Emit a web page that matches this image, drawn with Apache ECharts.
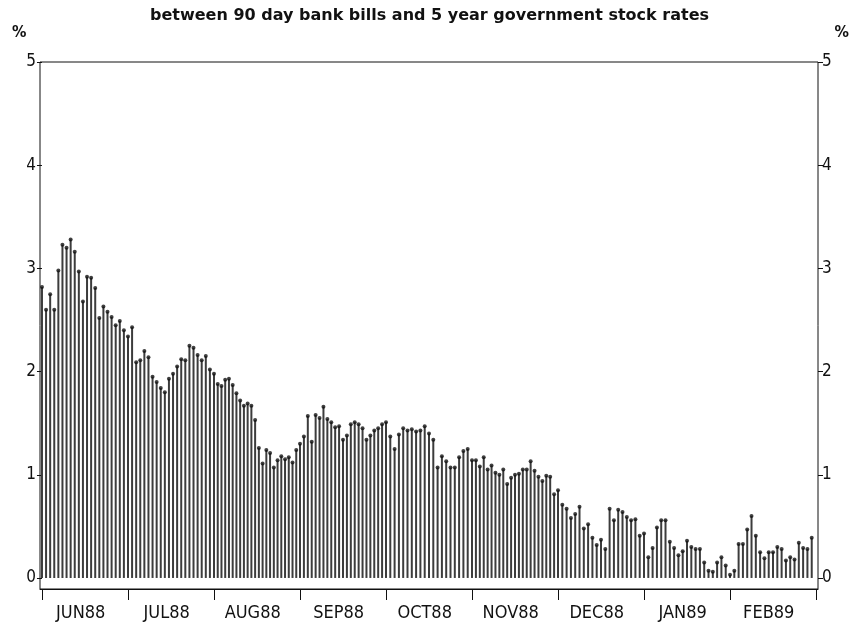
<!DOCTYPE html>
<html>
<head>
<meta charset="utf-8">
<script src="https://cdn.jsdelivr.net/npm/echarts@6/dist/echarts.min.js"></script>
<style>
  html, body { margin: 0; padding: 0; background: #fff; }
  #chart { width: 859px; height: 628px; }
</style>
</head>
<body>
<div id="chart"></div>
<script>
// Daily spread (percentage points) between 90 day bank bills and 5 year government stock,
// one array per month; each month gets the same width on the time scale.
const monthNames = ['JUN88', 'JUL88', 'AUG88', 'SEP88', 'OCT88', 'NOV88', 'DEC88', 'JAN89', 'FEB89'];
const spreadJun88 = [2.82, 2.60, 2.75, 2.60, 2.98, 3.23, 3.20, 3.28, 3.16, 2.97, 2.68, 2.92, 2.91, 2.81, 2.52, 2.63, 2.58, 2.53, 2.45, 2.49, 2.40];
const spreadJul88 = [2.34, 2.43, 2.09, 2.11, 2.20, 2.14, 1.95, 1.90, 1.84, 1.80, 1.93, 1.98, 2.05, 2.12, 2.11, 2.25, 2.23, 2.16, 2.11, 2.15, 2.02];
const spreadAug88 = [1.98, 1.88, 1.86, 1.92, 1.93, 1.87, 1.79, 1.72, 1.67, 1.69, 1.67, 1.53, 1.26, 1.11, 1.24, 1.21, 1.07, 1.14, 1.18, 1.15, 1.17, 1.12, 1.24];
const spreadSep88 = [1.30, 1.37, 1.57, 1.32, 1.58, 1.55, 1.66, 1.54, 1.51, 1.46, 1.47, 1.34, 1.38, 1.49, 1.51, 1.49, 1.45, 1.34, 1.38, 1.43, 1.45, 1.49];
const spreadOct88 = [1.51, 1.37, 1.25, 1.39, 1.45, 1.43, 1.44, 1.42, 1.43, 1.47, 1.40, 1.34, 1.07, 1.18, 1.13, 1.07, 1.07, 1.17, 1.23, 1.25];
const spreadNov88 = [1.14, 1.14, 1.08, 1.17, 1.05, 1.09, 1.02, 1.00, 1.05, 0.91, 0.97, 1.00, 1.01, 1.05, 1.05, 1.13, 1.04, 0.98, 0.94, 0.99, 0.98, 0.81];
const spreadDec88 = [0.85, 0.71, 0.67, 0.58, 0.62, 0.69, 0.48, 0.52, 0.39, 0.32, 0.37, 0.28, 0.67, 0.56, 0.66, 0.64, 0.59, 0.56, 0.57, 0.41];
const spreadJan89 = [0.43, 0.20, 0.29, 0.49, 0.56, 0.56, 0.35, 0.29, 0.22, 0.26, 0.36, 0.30, 0.28, 0.28, 0.15, 0.07, 0.06, 0.15, 0.20, 0.12];
const spreadFeb89 = [0.03, 0.07, 0.33, 0.33, 0.47, 0.60, 0.41, 0.25, 0.19, 0.25, 0.25, 0.30, 0.28, 0.17, 0.20, 0.18, 0.34, 0.29, 0.28, 0.39];
const yTickValues = [0, 1, 2, 3, 4, 5];

const monthly = [spreadJun88, spreadJul88, spreadAug88, spreadSep88, spreadOct88,
                 spreadNov88, spreadDec88, spreadJan89, spreadFeb89];

// x is measured in months: trading days are spread evenly across their month
const points = [];
monthly.forEach((arr, m) => {
  arr.forEach((v, i) => points.push([m + i / arr.length, v]));
});
const monthTicks = monthNames.map((_, m) => m).concat([monthNames.length]);
const monthLabelAt = monthNames.map((_, m) => m + 0.45);

const labelFont = "'Liberation Sans Narrow', 'DejaVu Sans Condensed', 'Liberation Sans', sans-serif";
const ink = '#111';

const chart = echarts.init(document.getElementById('chart'), null, { renderer: 'canvas' });
chart.setOption({
  animation: false,
  backgroundColor: '#fff',
  title: {
    text: 'between 90 day bank bills and 5 year government stock rates',
    left: 'center',
    top: 3,
    textStyle: { fontFamily: "'DejaVu Sans', sans-serif", fontSize: 16, fontWeight: 'bold', color: ink }
  },
  graphic: [
    { type: 'text', left: 12, top: 25, style: { text: '%', fontSize: 16, fontWeight: 'bold', fontFamily: labelFont, fill: ink } },
    { type: 'text', right: 10, top: 25, style: { text: '%', fontSize: 16, fontWeight: 'bold', fontFamily: labelFont, fill: ink } }
  ],
  grid: {
    left: 40, right: 41, top: 62, bottom: 39,
    show: true, borderColor: ink, borderWidth: 1, backgroundColor: 'transparent'
  },
  xAxis: {
    type: 'value',
    min: -0.023,
    max: 9.023,
    axisLine: { onZero: false, lineStyle: { color: ink, width: 1 } },
    axisTick: { length: 11, customValues: monthTicks, lineStyle: { color: ink } },
    axisLabel: {
      customValues: monthLabelAt,
      formatter: (v) => monthNames[Math.floor(v)],
      margin: 15,
      fontSize: 18,
      fontFamily: labelFont,
      color: ink
    },
    splitLine: { show: false }
  },
  yAxis: [
    {
      type: 'value', min: -0.107, max: 5, position: 'left',
      axisLine: { show: false },
      axisTick: { show: true, length: 5, customValues: yTickValues, lineStyle: { color: ink } },
      axisLabel: { customValues: yTickValues, margin: 4, fontSize: 17, fontFamily: labelFont, color: ink },
      splitLine: { show: false }
    },
    {
      type: 'value', min: -0.107, max: 5, position: 'right',
      axisLine: { show: false },
      axisTick: { show: true, length: 5, customValues: yTickValues, lineStyle: { color: ink } },
      axisLabel: { customValues: yTickValues, margin: 4, fontSize: 17, fontFamily: labelFont, color: ink },
      splitLine: { show: false }
    }
  ],
  series: [
    {
      type: 'bar',
      data: points,
      barWidth: 2,
      itemStyle: { color: '#3c3c3c' },
      silent: true
    },
    {
      type: 'scatter',
      data: points,
      symbol: 'circle',
      symbolSize: 4,
      itemStyle: { color: ink },
      silent: true
    }
  ]
});
</script>
</body>
</html>
